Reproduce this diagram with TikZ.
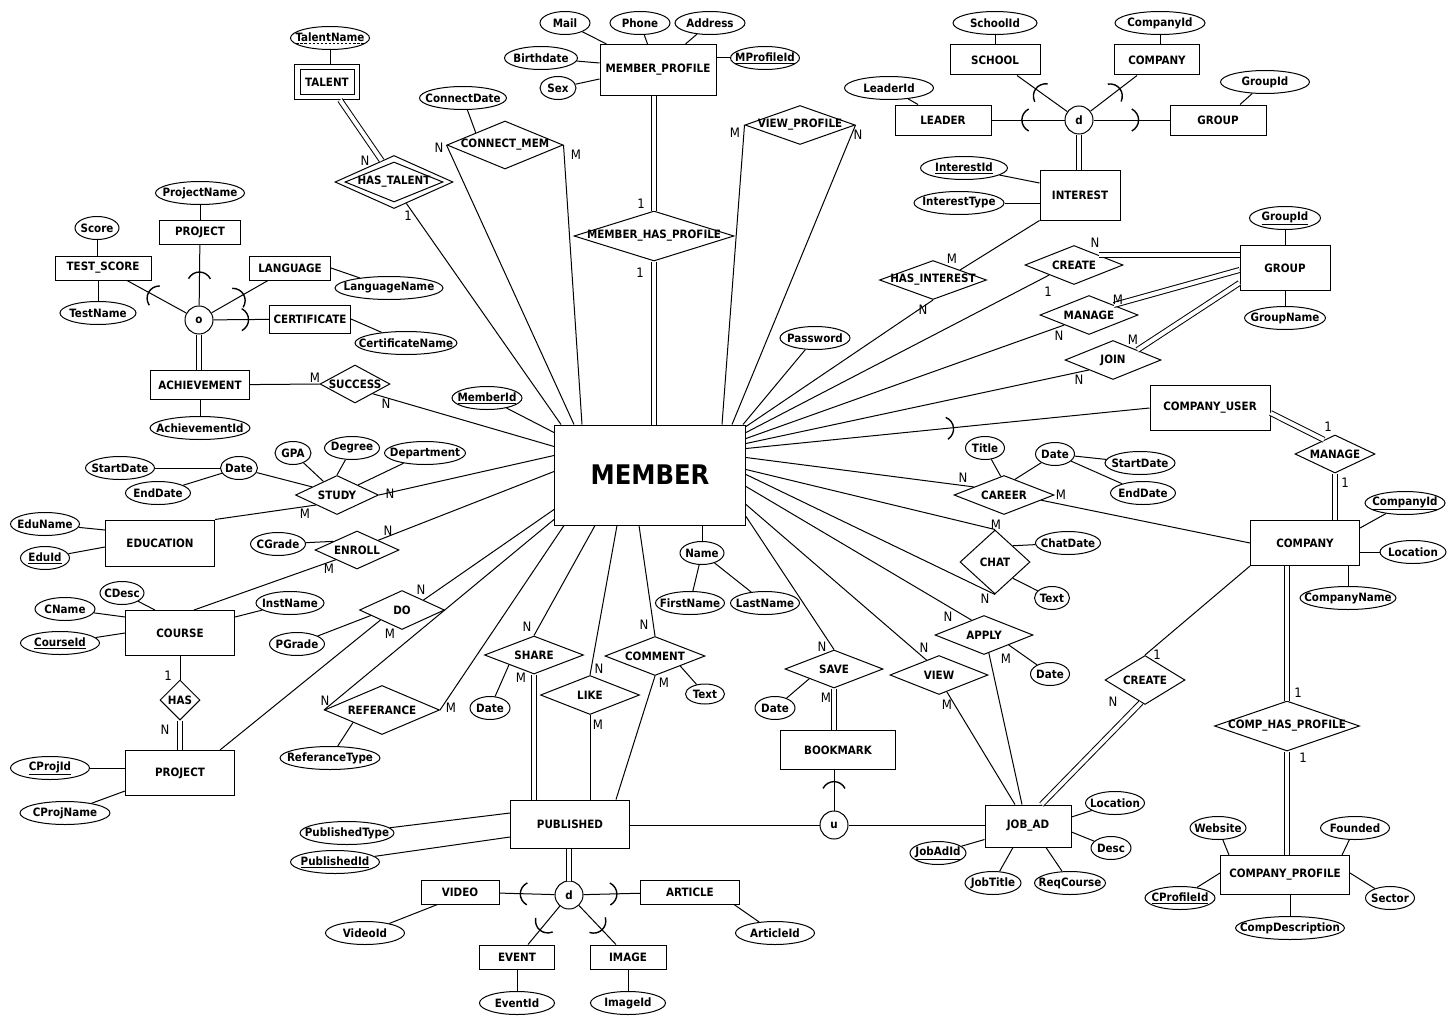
\documentclass[tikz,border=0pt]{standalone}
\usepackage{fontspec}
\setmainfont{DejaVu Sans Condensed}[BoldFont={DejaVu Sans Condensed Bold}]
\usetikzlibrary{shapes.geometric,calc}
\newcommand{\erfont}{\bfseries\fontsize{11.5}{13}\selectfont}
\newcommand{\cardfont}{\fontsize{13}{15}\selectfont}
\newcommand{\zt}[1]{\makebox[0pt]{#1}}
\newcommand{\dul}[1]{\setbox0=\hbox{#1}\rlap{\copy0}%
  \raisebox{-2.5pt}{\hbox to \wd0{\xleaders\hbox to 4pt{\hss\rule{2.5pt}{0.6pt}\hss}\hfill}}}

\begin{document}
\begin{tikzpicture}[x=1pt, y=-1pt, line width=1pt,
    ent/.style={rectangle, draw, inner sep=0pt, font=\erfont},
    rel/.style={diamond, draw, inner sep=0pt, aspect=2, font=\erfont},
    attr/.style={ellipse, draw, inner sep=0pt, minimum height=23, font=\erfont},
    spc/.style={circle, draw, minimum size=28, inner sep=0pt, font=\erfont},
    card/.style={inner sep=0pt, font=\cardfont},
    dbl/.style={double, double distance=4pt},
    subarc/.pic={\draw[line width=1.4pt] (-5,-11) .. controls (4,-6) and (4,6) .. (-5,11);}]
  \useasboundingbox (0,0) rectangle (1456,1025);
  % ----- entities
  \node[ent, minimum width=191, minimum height=100,
        font=\bfseries\fontsize{27}{30}\selectfont] (mem) at (650,475) {MEMBER};
  \node[ent, minimum width=116, minimum height=51] (mp) at (658,70) {MEMBER\_PROFILE};
  \node[ent, minimum width=65, minimum height=35] (tal) at (327,82) {};
  \node[ent, minimum width=54, minimum height=24] (talin) at (tal) {TALENT};
  \node[ent, minimum width=90, minimum height=30] (school) at (995,60) {SCHOOL};
  \node[ent, minimum width=85, minimum height=30] (comp1) at (1157,60) {COMPANY};
  \node[ent, minimum width=96, minimum height=30] (leader) at (943,120) {LEADER};
  \node[ent, minimum width=96, minimum height=30] (grp1) at (1218,120) {GROUP};
  \node[ent, minimum width=80, minimum height=50] (intr) at (1080,195) {INTEREST};
  \node[ent, minimum width=90, minimum height=45] (grp) at (1285,268) {GROUP};
  \node[ent, minimum width=81, minimum height=24] (proj1) at (200,232) {PROJECT};
  \node[ent, minimum width=96, minimum height=24] (ts) at (103,268) {TEST\_SCORE};
  \node[ent, minimum width=81, minimum height=24] (lang) at (290,268) {LANGUAGE};
  \node[ent, minimum width=81, minimum height=28] (cert) at (310,319) {CERTIFICATE};
  \node[ent, minimum width=99, minimum height=29] (ach) at (200,385) {ACHIEVEMENT};
  \node[ent, minimum width=109, minimum height=46] (edu) at (160,543) {EDUCATION};
  \node[ent, minimum width=109, minimum height=45] (course) at (180,633) {COURSE};
  \node[ent, minimum width=109, minimum height=45] (proj2) at (180,773) {PROJECT};
  \node[ent, minimum width=120, minimum height=45] (cu) at (1210,408) {COMPANY\_USER};
  \node[ent, minimum width=109, minimum height=45] (comp) at (1305,543) {COMPANY};
  \node[ent, minimum width=119, minimum height=48] (pub) at (570,824) {PUBLISHED};
  \node[ent, minimum width=115, minimum height=39] (bm) at (838,750) {BOOKMARK};
  \node[ent, minimum width=86, minimum height=42] (job) at (1028,826) {JOB\_AD};
  \node[ent, minimum width=129, minimum height=39] (cprof) at (1285,875) {COMPANY\_PROFILE};
  \node[ent, minimum width=78, minimum height=24] (video) at (460,892) {VIDEO};
  \node[ent, minimum width=99, minimum height=24] (article) at (690,892) {ARTICLE};
  \node[ent, minimum width=75, minimum height=24] (event) at (517,957) {EVENT};
  \node[ent, minimum width=76, minimum height=24] (image) at (628,957) {IMAGE};
  % ----- specialisation circles
  \node[spc] (oc) at (199,320) {o};
  \node[spc] (dint) at (1079,120) {d};
  \node[spc] (uc) at (834,825) {u};
  \node[spc] (dpub) at (569,895) {d};
  % ----- relationships
  \node[rel, minimum width=118, minimum height=53] (htal) at (394,182) {};
  \node[rel, minimum width=98, minimum height=40] (htalin) at (htal) {\zt{HAS\_TALENT}};
  \node[rel, minimum width=116, minimum height=48] (conn) at (505,145) {\zt{CONNECT\_MEM}};
  \node[rel, minimum width=160, minimum height=50] (mhp) at (654,236) {\zt{MEMBER\_HAS\_PROFILE}};
  \node[rel, minimum width=110, minimum height=39] (vprof) at (800,125) {\zt{VIEW\_PROFILE}};
  \node[rel, minimum width=107, minimum height=39] (hint) at (933,280) {\zt{HAS\_INTEREST}};
  \node[rel, minimum width=98, minimum height=39] (crg) at (1074,265) {\zt{CREATE}};
  \node[rel, minimum width=98, minimum height=39] (mng) at (1089,315) {\zt{MANAGE}};
  \node[rel, minimum width=96, minimum height=39] (join) at (1113,360) {\zt{JOIN}};
  \node[rel, minimum width=70, minimum height=38] (succ) at (355,384) {\zt{SUCCESS}};
  \node[rel, minimum width=83, minimum height=39] (study) at (337,495) {\zt{STUDY}};
  \node[rel, minimum width=84, minimum height=38] (enr) at (357,550) {\zt{ENROLL}};
  \node[rel, minimum width=85, minimum height=39] (dorel) at (402,610) {\zt{DO}};
  \node[rel, minimum width=40, minimum height=40] (has) at (180,700) {\zt{HAS}};
  \node[rel, minimum width=115, minimum height=49] (ref) at (382,710) {\zt{REFERANCE}};
  \node[rel, minimum width=99, minimum height=38] (share) at (534,655) {\zt{SHARE}};
  \node[rel, minimum width=99, minimum height=39] (like) at (590,695) {\zt{LIKE}};
  \node[rel, minimum width=100, minimum height=39] (comm) at (655,656) {\zt{COMMENT}};
  \node[rel, minimum width=98, minimum height=38] (save) at (834,669) {\zt{SAVE}};
  \node[rel, minimum width=98, minimum height=39] (view) at (939,675) {\zt{VIEW}};
  \node[rel, minimum width=98, minimum height=39] (apply) at (984,635) {\zt{APPLY}};
  \node[rel, minimum width=70, minimum height=64] (chat) at (995,562) {\zt{CHAT}};
  \node[rel, minimum width=100, minimum height=39] (car) at (1004,495) {\zt{CAREER}};
  \node[rel, minimum width=80, minimum height=38] (mngc) at (1335,454) {\zt{MANAGE}};
  \node[rel, minimum width=80, minimum height=49] (crj) at (1145,680) {\zt{CREATE}};
  \node[rel, minimum width=145, minimum height=50] (chp) at (1287,726) {\zt{COMP\_HAS\_PROFILE}};
  % ----- attributes
  \node[attr, minimum width=79] (tname) at (330,38) {\zt{\dul{TalentName}}};
  \node[attr, minimum width=87] (cdate) at (463,98) {\zt{ConnectDate}};
  \node[attr, minimum width=50] (mail) at (565,23) {\zt{Mail}};
  \node[attr, minimum width=60] (phone) at (640,23) {\zt{Phone}};
  \node[attr, minimum width=70] (addr) at (710,23) {\zt{Address}};
  \node[attr, minimum width=73] (bdate) at (541,58) {\zt{Birthdate}};
  \node[attr, minimum width=36] (sex) at (558,88) {\zt{Sex}};
  \node[attr, minimum width=69] (mpid) at (765,58) {\zt{\underline{MProfileId}}};
  \node[attr, minimum width=84] (schid) at (995,23) {\zt{SchoolId}};
  \node[attr, minimum width=90] (cid1) at (1160,23) {\zt{CompanyId}};
  \node[attr, minimum width=89] (lid) at (889,88) {\zt{LeaderId}};
  \node[attr, minimum width=89] (gid1) at (1265,82) {\zt{GroupId}};
  \node[attr, minimum width=87] (iid) at (964,168) {\zt{\underline{InterestId}}};
  \node[attr, minimum width=90] (ityp) at (959,203) {\zt{InterestType}};
  \node[attr, minimum width=71] (gid2) at (1285,218) {\zt{\underline{GroupId}}};
  \node[attr, minimum width=81] (gname) at (1285,318) {\zt{GroupName}};
  \node[attr, minimum width=70] (pw) at (815,338) {\zt{Password}};
  \node[attr, minimum width=70] (mid) at (487,398) {\zt{\underline{MemberId}}};
  \node[attr, minimum width=89] (pname) at (200,193) {\zt{ProjectName}};
  \node[attr, minimum width=44] (score) at (97,228) {\zt{Score}};
  \node[attr, minimum width=76] (tstn) at (98,313) {\zt{TestName}};
  \node[attr, minimum width=108] (lname) at (389,288) {\zt{LanguageName}};
  \node[attr, minimum width=102] (certn) at (406,343) {\zt{CertificateName}};
  \node[attr, minimum width=100] (achid) at (200,428) {\zt{AchievementId}};
  \node[attr, minimum width=36] (gpa) at (293,453) {\zt{GPA}};
  \node[attr, minimum width=55] (deg) at (352,448) {\zt{Degree}};
  \node[attr, minimum width=81] (dept) at (425,453) {\zt{Department}};
  \node[attr, minimum width=69] (sd1) at (120,468) {\zt{StartDate}};
  \node[attr, minimum width=37] (dt1) at (239,468) {\zt{Date}};
  \node[attr, minimum width=65] (ed1) at (158,493) {\zt{EndDate}};
  \node[attr, minimum width=69] (eduname) at (45,524) {\zt{EduName}};
  \node[attr, minimum width=49] (eduid) at (45,558) {\zt{\underline{EduId}}};
  \node[attr, minimum width=55] (cgr) at (278,544) {\zt{CGrade}};
  \node[attr, minimum width=44] (cdesc) at (122,593) {\zt{CDesc}};
  \node[attr, minimum width=60] (cnm) at (65,609) {\zt{CName}};
  \node[attr, minimum width=79] (crsid) at (60,643) {\zt{\underline{CourseId}}};
  \node[attr, minimum width=68] (inst) at (290,603) {\zt{InstName}};
  \node[attr, minimum width=55] (pgr) at (297,644) {\zt{PGrade}};
  \node[attr, minimum width=79] (cpid) at (50,768) {\zt{\underline{CProjId}}};
  \node[attr, minimum width=90] (cpnm) at (65,813) {\zt{CProjName}};
  \node[attr, minimum width=100] (rtype) at (330,758) {\zt{ReferanceType}};
  \node[attr, minimum width=94] (ptype) at (347,833) {\zt{PublishedType}};
  \node[attr, minimum width=89] (pid) at (335,862) {\zt{\underline{PublishedId}}};
  \node[attr, minimum width=79] (vid) at (365,933) {\zt{VideoId}};
  \node[attr, minimum width=79] (artid) at (775,933) {\zt{ArticleId}};
  \node[attr, minimum width=75] (evid) at (517,1003) {\zt{EventId}};
  \node[attr, minimum width=75] (imid) at (628,1003) {\zt{ImageId}};
  \node[attr, minimum width=40] (dt3) at (490,708) {\zt{Date}};
  \node[attr, minimum width=39, minimum height=20] (txt1) at (705,694) {\zt{Text}};
  \node[attr, minimum width=44] (nm) at (702,553) {\zt{Name}};
  \node[attr, minimum width=69] (fnm) at (690,603) {\zt{FirstName}};
  \node[attr, minimum width=69] (lnm) at (765,603) {\zt{LastName}};
  \node[attr, minimum width=40] (dt4) at (775,708) {\zt{Date}};
  \node[attr, minimum width=39] (ttl) at (985,448) {\zt{Title}};
  \node[attr, minimum width=39] (dt2) at (1055,454) {\zt{Date}};
  \node[attr, minimum width=70] (sd2) at (1140,463) {\zt{StartDate}};
  \node[attr, minimum width=65] (ed2) at (1143,493) {\zt{EndDate}};
  \node[attr, minimum width=65] (cdt) at (1068,543) {\zt{ChatDate}};
  \node[attr, minimum width=35] (txt2) at (1052,598) {\zt{Text}};
  \node[attr, minimum width=39] (dt5) at (1050,674) {\zt{Date}};
  \node[attr, minimum width=80] (cid3) at (1405,503) {\zt{\underline{CompanyId}}};
  \node[attr, minimum width=66] (loc1) at (1413,552) {\zt{Location}};
  \node[attr, minimum width=96] (cmpn) at (1348,598) {\zt{CompanyName}};
  \node[attr, minimum width=59] (loc2) at (1115,803) {\zt{Location}};
  \node[attr, minimum width=40] (desc) at (1111,848) {\zt{Desc}};
  \node[attr, minimum width=56] (jid) at (938,853) {\zt{\underline{JobAdId}}};
  \node[attr, minimum width=56] (jtl) at (993,883) {\zt{JobTitle}};
  \node[attr, minimum width=71] (rqc) at (1070,883) {\zt{ReqCourse}};
  \node[attr, minimum width=56] (web) at (1218,828) {\zt{Website}};
  \node[attr, minimum width=69] (fnd) at (1355,828) {\zt{Founded}};
  \node[attr, minimum width=70] (cpfid) at (1180,898) {\zt{\underline{CProfileId}}};
  \node[attr, minimum width=49] (sect) at (1390,898) {\zt{Sector}};
  \node[attr, minimum width=109] (cdsc) at (1290,928) {\zt{CompDescription}};
  % ----- member profile and talent
  \draw (mail) -- ($(mp.north west)+(7,0)$);
  \draw (phone) -- ($(mp.north west)+(48,0)$);
  \draw (addr) -- ($(mp.north west)+(86,0)$);
  \draw (bdate) -- ($(mp.north west)+(0,19)$);
  \draw (sex) -- ($(mp.north west)+(0,35)$);
  \draw (mpid) -- (mpid -| mp.east);
  \draw[dbl] (mhp.north) -- (mhp.north |- mp.south);
  \draw[dbl] (mhp.south) -- (mhp.south |- mem.north);
  \draw (tname) -- (tname |- tal.north);
  \draw[dbl] ($(tal.south)+(13,0)$) -- (htal.120);
  \draw (htal.-60) -- ($(mem.north west)+(7,0)$);
  \draw (cdate) -- (conn.north west);
  \draw (conn.west) -- ($(mem.north west)+(20,0)$);
  \draw (conn.east) -- ($(mem.north west)+(28,0)$);
  \draw (vprof.west) -- ($(mem.north west)+(168,0)$);
  \draw (vprof.east) -- ($(mem.north west)+(178,0)$);
  \draw (pw) -- ($(mem.north east)+(-3,0)$);
  % ----- interest and its kinds
  \draw (schid) -- (schid |- school.north);
  \draw (cid1) -- (cid1 |- comp1.north);
  \draw (lid) -- ($(leader.north)+(-25,0)$);
  \draw (gid1) -- ($(grp1.north)+(22,0)$);
  \draw (dint) -- ($(school.south)+(22,0)$) pic[pos=.6, sloped, allow upside down]{subarc};
  \draw (dint) -- ($(comp1.south)+(-20,0)$) pic[pos=.6, sloped, allow upside down]{subarc};
  \draw (dint) -- (leader) pic[pos=.56, sloped, allow upside down]{subarc};
  \draw (dint) -- (grp1) pic[pos=.57, sloped, allow upside down]{subarc};
  \draw[dbl] (dint.south) -- (dint.south |- intr.north);
  \draw (iid) -- ($(intr.west)+(0,-12)$);
  \draw (ityp) -- (ityp -| intr.west);
  \draw (intr.south west) -- (hint.north east);
  \draw (hint.south) -- ($(mem.north east)+(0,2)$);
  % ----- groups
  \draw (gid2) -- (gid2 |- grp.north);
  \draw (gname) -- (gname |- grp.south);
  \draw[dbl] (crg.north east) -- (crg.north east -| grp.west);
  \draw[dbl] (mng.north east) -- ($(grp.west)+(0,2)$);
  \draw[dbl] (join.north east) -- ($(grp.west)+(0,15)$);
  \draw (crg.south west) -- ($(mem.north east)+(0,8)$);
  \draw (mng.south west) -- ($(mem.north east)+(0,14)$);
  \draw (join.south west) -- ($(mem.north east)+(0,19)$);
  \draw ($(mem.north east)+(0,24)$) -- (cu.west) pic[pos=.51, sloped, allow upside down]{subarc};
  % ----- company side
  \draw[dbl] ($(cu.east)+(0,5)$) -- (mngc.128);
  \draw[dbl] (mngc.south) -- (mngc.south |- comp.north);
  \draw (cid3) -- ($(comp.north east)+(0,8)$);
  \draw (loc1) -- (loc1 -| comp.east);
  \draw (cmpn) -- (cmpn |- comp.south);
  \draw[dbl] (chp.north) -- (chp.north |- comp.south);
  \draw[dbl] (chp.south) -- (chp.south |- cprof.north);
  \draw (web) -- ($(cprof.north west)+(9,0)$);
  \draw (fnd) -- ($(cprof.north east)+(-8,0)$);
  \draw (cpfid) -- ($(cprof.west)+(0,-2)$);
  \draw (sect) -- ($(cprof.east)+(0,-2)$);
  \draw (cdsc) -- (cdsc |- cprof.south);
  % ----- career, chat
  \draw ($(mem.north east)+(0,33)$) -- (car.165);
  \draw (car.-8) -- (comp.west);
  \draw (ttl) -- (car.100);
  \draw (dt2) -- (car.55);
  \draw (dt2) -- (sd2);
  \draw (dt2) -- (ed2);
  \draw ($(mem.north east)+(0,45)$) -- (chat.north);
  \draw ($(mem.north east)+(0,50)$) -- (chat.south);
  \draw (cdt) -- (chat.north east);
  \draw (txt2) -- (chat.south east);
  % ----- apply, view, save
  \draw ($(mem.north east)+(0,62)$) -- (apply.130);
  \draw (apply.-75) -- ($(job.north)+(-6,0)$);
  \draw (dt5) -- (apply.south east);
  \draw ($(mem.north east)+(0,80)$) -- (view.130);
  \draw (view.-65) -- ($(job.north)+(-13,0)$);
  \draw ($(mem.north east)+(0,92)$) -- (save.north);
  \draw (dt4) -- (save.south west);
  \draw[dbl] (save.south) -- (save.south |- bm.north);
  \draw (crj.north) -- (comp.south west);
  \draw[dbl] (crj.-100) -- ($(job.north east)+(-30,0)$);
  % ----- job ad
  \draw (loc2) -- ($(job.east)+(0,-9)$);
  \draw (desc) -- ($(job.east)+(0,6)$);
  \draw (jid) -- ($(job.south west)+(0,-8)$);
  \draw (jtl) -- ($(job.south)+(-15,0)$);
  \draw (rqc) -- ($(job.south)+(18,0)$);
  % ----- union bookmark
  \draw (uc.west) -- (uc.west -| pub.east);
  \draw (uc.east) -- (uc.east -| job.west);
  \draw (uc) -- (uc |- bm.south) pic[pos=.67, sloped, allow upside down]{subarc};
  % ----- published and its kinds
  \draw (ptype) -- ($(pub.west)+(0,-11)$);
  \draw (pid) -- ($(pub.west)+(0,13)$);
  \draw[dbl] (dpub.north) -- (dpub.north |- pub.south);
  \draw (dpub) -- (video) pic[pos=.59, sloped, allow upside down]{subarc};
  \draw (dpub) -- (article) pic[pos=.56, sloped, allow upside down]{subarc};
  \draw (dpub) -- ($(event.north)+(11,0)$) pic[pos=.59, sloped, allow upside down]{subarc};
  \draw (dpub) -- ($(image.north)+(-12,0)$) pic[pos=.59, sloped, allow upside down]{subarc};
  \draw (vid) -- ($(video.south west)+(17,0)$);
  \draw (artid) -- ($(article.south east)+(-6,0)$);
  \draw (evid) -- (evid |- event.south);
  \draw (imid) -- (imid |- image.south);
  % ----- share, like, comment, name
  \draw (share.north) -- ($(mem.south west)+(41,0)$);
  \draw[dbl] (share.south) -- (share.south |- pub.north);
  \draw (dt3) -- (share.south west);
  \draw (like.north) -- ($(mem.south west)+(63,0)$);
  \draw (like.south) -- (like.south |- pub.north);
  \draw (comm.north) -- ($(mem.south west)+(85,0)$);
  \draw (comm.south) -- ($(pub.north east)+(-14,0)$);
  \draw (txt1) -- (comm.south east);
  \draw (nm) -- (nm |- mem.south);
  \draw (nm) -- (fnm);
  \draw (nm) -- (lnm);
  % ----- achievement
  \draw (mid) -- ($(mem.north west)+(0,8)$);
  \draw (succ.south east) -- ($(mem.north west)+(0,22)$);
  \draw (ach) -- (succ.west);
  \draw (achid) -- (achid |- ach.south);
  \draw[dbl] (oc.south) -- (oc.south |- ach.north);
  \draw (oc) -- (proj1) pic[pos=.52, sloped, allow upside down]{subarc};
  \draw (pname) -- (pname |- proj1.north);
  \draw (score) -- (score |- ts.north);
  \draw (tstn) -- (tstn |- ts.south);
  \draw (oc) -- ($(ts.south)+(24,0)$) pic[pos=.61, sloped, allow upside down]{subarc};
  \draw (oc) -- ($(lang.south)+(-22,0)$) pic[pos=.54, sloped, allow upside down]{subarc};
  \draw (lname) -- (lang.east);
  \draw (oc) -- (cert) pic[pos=.6, sloped, allow upside down]{subarc};
  \draw (certn) -- (cert.east);
  % ----- study, enroll, do, referance
  \draw (study.east) -- ($(mem.north west)+(0,31)$);
  \draw (study.south west) -- (edu.north east);
  \draw (gpa) -- (study.135);
  \draw (deg) -- (study.north);
  \draw (dept) -- (study.north east);
  \draw (dt1) -- (study.162);
  \draw (sd1) -- (dt1);
  \draw (ed1) -- (dt1);
  \draw (eduname) -- ($(edu.west)+(0,-13)$);
  \draw (eduid) -- ($(edu.west)+(0,4)$);
  \draw (enr.north east) -- ($(mem.north west)+(0,47)$);
  \draw (enr.south west) -- ($(course.north east)+(-41,0)$);
  \draw (cgr) -- (enr.160);
  \draw (cdesc) -- ($(course.north west)+(30,0)$);
  \draw (cnm) -- ($(course.north west)+(0,7)$);
  \draw (crsid) -- (course.west);
  \draw (inst) -- ($(course.north east)+(0,7)$);
  \draw (course.south) -- (has.north);
  \draw[dbl] (has.south) -- (proj2.north);
  \draw (cpid) -- (cpid -| proj2.west);
  \draw (cpnm) -- ($(proj2.south west)+(0,-5)$);
  \draw (dorel.north east) -- ($(mem.north west)+(0,85)$);
  \draw (dorel.south west) -- ($(proj2.north east)+(-15,0)$);
  \draw (pgr) -- (dorel.190);
  \draw (ref.west) -- ($(mem.north west)+(0,95)$);
  \draw (ref.east) -- ($(mem.south west)+(10,0)$);
  \draw (rtype) -- (ref.south west);
  % ----- cardinalities
  \node[card] (k1) at (365,161) {N};
  \node[card] (k2) at (408,216) {1};
  \node[card] (k3) at (439,148) {N};
  \node[card] (k4) at (576,155) {M};
  \node[card] (k5) at (641,204) {1};
  \node[card] (k6) at (640,273) {1};
  \node[card] (k7) at (735,133) {M};
  \node[card] (k8) at (858,135) {N};
  \node[card] (k9) at (952,259) {M};
  \node[card] (k10) at (923,310) {N};
  \node[card] (k11) at (1095,243) {N};
  \node[card] (k12) at (1048,292) {1};
  \node[card] (k13) at (1118,300) {M};
  \node[card] (k14) at (1059,336) {N};
  \node[card] (k15) at (1133,340) {M};
  \node[card] (k16) at (1079,380) {N};
  \node[card] (k17) at (315,378) {M};
  \node[card] (k18) at (386,404) {N};
  \node[card] (k19) at (390,494) {N};
  \node[card] (k20) at (305,514) {M};
  \node[card] (k21) at (388,531) {N};
  \node[card] (k22) at (329,569) {M};
  \node[card] (k23) at (421,590) {N};
  \node[card] (k24) at (390,634) {M};
  \node[card] (k25) at (168,676) {1};
  \node[card] (k26) at (165,730) {N};
  \node[card] (k27) at (325,701) {N};
  \node[card] (k28) at (451,708) {M};
  \node[card] (k29) at (527,627) {N};
  \node[card] (k30) at (521,678) {M};
  \node[card] (k31) at (599,669) {N};
  \node[card] (k32) at (598,725) {M};
  \node[card] (k33) at (644,625) {N};
  \node[card] (k34) at (664,683) {M};
  \node[card] (k35) at (822,647) {N};
  \node[card] (k36) at (826,698) {M};
  \node[card] (k37) at (924,648) {N};
  \node[card] (k38) at (947,705) {M};
  \node[card] (k39) at (948,617) {N};
  \node[card] (k40) at (1006,659) {M};
  \node[card] (k41) at (996,525) {M};
  \node[card] (k42) at (985,599) {N};
  \node[card] (k43) at (963,478) {N};
  \node[card] (k44) at (1061,495) {M};
  \node[card] (k45) at (1157,655) {1};
  \node[card] (k46) at (1113,702) {N};
  \node[card] (k47) at (1328,427) {1};
  \node[card] (k48) at (1345,483) {1};
  \node[card] (k49) at (1298,693) {1};
  \node[card] (k50) at (1303,758) {1};
\end{tikzpicture}
\end{document}
